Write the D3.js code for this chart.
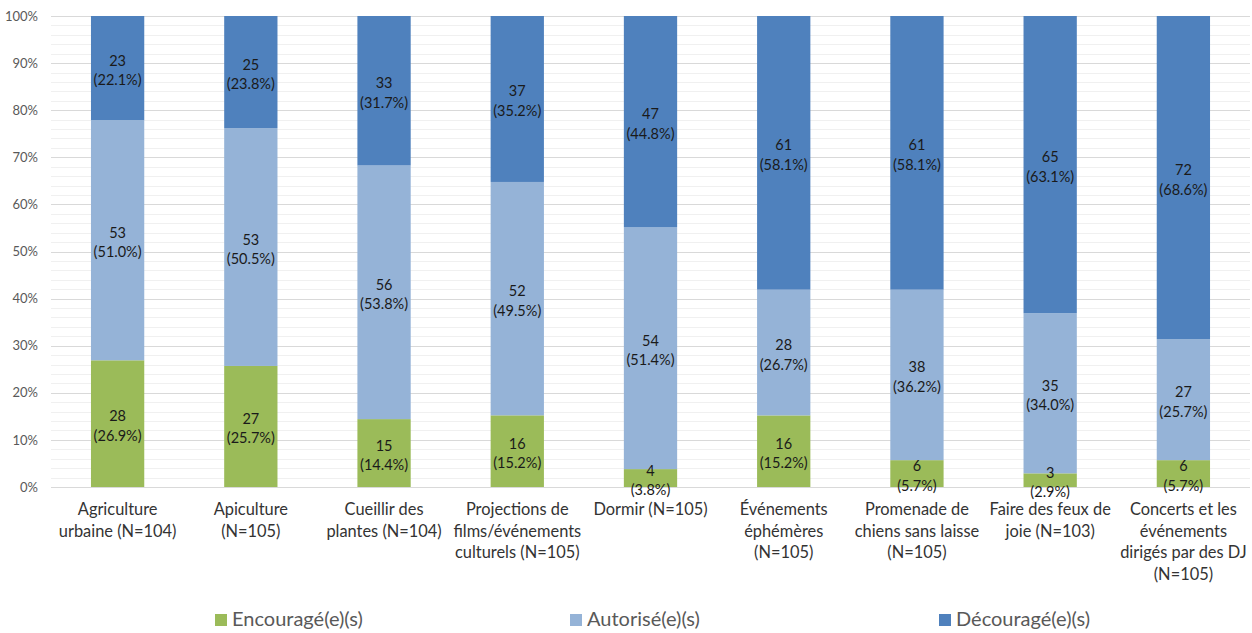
<!DOCTYPE html>
<html><head><meta charset="utf-8">
<script src="https://cdn.jsdelivr.net/npm/d3@7"></script>
<style>
body{margin:0;background:#fff;}
svg{display:block;font-family:Lato,"Open Sans","Noto Sans",sans-serif;}
</style></head>
<body><svg id="c" width="1252" height="633"></svg>
<script>
const categories = [
  "Agriculture\nurbaine (N=104)",
  "Apiculture\n(N=105)",
  "Cueillir des\nplantes (N=104)",
  "Projections de\nfilms/événements\nculturels (N=105)",
  "Dormir (N=105)",
  "Événements\néphémères\n(N=105)",
  "Promenade de\nchiens sans laisse\n(N=105)",
  "Faire des feux de\njoie (N=103)",
  "Concerts et les\névénements\ndirigés par des DJ\n(N=105)"
];
const seriesNames = ["Encouragé(e)(s)", "Autorisé(e)(s)", "Découragé(e)(s)"];
const encourageCount = [28, 27, 15, 16, 4, 16, 6, 3, 6];
const encouragePct   = [26.9, 25.7, 14.4, 15.2, 3.8, 15.2, 5.7, 2.9, 5.7];
const autoriseCount  = [53, 53, 56, 52, 54, 28, 38, 35, 27];
const autorisePct    = [51.0, 50.5, 53.8, 49.5, 51.4, 26.7, 36.2, 34.0, 25.7];
const decourageCount = [23, 25, 33, 37, 47, 61, 61, 65, 72];
const decouragePct   = [22.1, 23.8, 31.7, 35.2, 44.8, 58.1, 58.1, 63.1, 68.6];
const yTicks = [0,10,20,30,40,50,60,70,80,90,100];
const colors = ["#9BBB59", "#95B3D7", "#4F81BD"];

(function(){
const svg = d3.select("#c");
const pLeft = 51, pRight = 1250, pTop = 16, pBottom = 487;
const x = d3.scaleBand().domain(d3.range(categories.length)).range([pLeft, pRight]).paddingInner(0.6).paddingOuter(0.3);
const y = d3.scaleLinear().domain([0, 100]).range([pBottom, pTop]);

// minor gridlines every 2%
const minor = d3.range(0, 101, 2).filter(v => v % 10 !== 0);
svg.append("g").selectAll("line").data(minor).join("line")
  .attr("x1", pLeft).attr("x2", pRight)
  .attr("y1", d => Math.round(y(d)) + 0.5).attr("y2", d => Math.round(y(d)) + 0.5)
  .attr("stroke", "#f0f0f0").attr("stroke-width", 1);
svg.append("g").selectAll("line").data(yTicks).join("line")
  .attr("x1", pLeft).attr("x2", pRight)
  .attr("y1", d => Math.round(y(d)) + 0.5).attr("y2", d => Math.round(y(d)) + 0.5)
  .attr("stroke", "#d9d9d9").attr("stroke-width", 1);

// y-axis labels
const yAxis = d3.axisLeft(y).tickValues(yTicks).tickFormat(d => d + "%").tickSize(0).tickPadding(13);
const ga = svg.append("g").attr("transform", `translate(${pLeft},0)`).call(yAxis);
ga.select(".domain").remove();
ga.selectAll("text").attr("font-size", 13).attr("fill", "#595959").attr("font-family", "Lato,'Open Sans',sans-serif");

const counts = [encourageCount, autoriseCount, decourageCount];
const pcts = [encouragePct, autorisePct, decouragePct];
const rows = categories.map((c, i) => ({i, e: encouragePct[i], a: autorisePct[i], d: decouragePct[i]}));
const stack = d3.stack().keys(["e", "a", "d"]).offset(d3.stackOffsetExpand);
const stacked = stack(rows);

stacked.forEach((layer, s) => {
  const g = svg.append("g");
  g.selectAll("rect").data(layer).join("rect")
    .attr("x", d => x(d.data.i))
    .attr("width", x.bandwidth())
    .attr("y", d => y(d[1] * 100))
    .attr("height", d => y(d[0] * 100) - y(d[1] * 100))
    .attr("fill", colors[s]);
});
stacked.forEach((layer, s) => {
  const g = svg.append("g");
  layer.forEach(d => {
    const i = d.data.i;
    const cx = x(i) + x.bandwidth() / 2;
    const cy = (y(d[0] * 100) + y(d[1] * 100)) / 2;
    const t = g.append("text").attr("text-anchor", "middle").attr("font-size", 14.5).attr("fill", "#1a1a1a");
    t.append("tspan").attr("x", cx).attr("y", cy - 2.5).text(counts[s][i]);
    t.append("tspan").attr("x", cx).attr("y", cy + 17).text("(" + pcts[s][i].toFixed(1) + "%)");
  });
});

// category labels
const cl = svg.append("g");
categories.forEach((c, i) => {
  const t = cl.append("text").attr("text-anchor", "middle").attr("font-size", 16.4).attr("fill", "#333333");
  c.split("\n").forEach((ln, k) => {
    t.append("tspan").attr("x", x(i) + x.bandwidth() / 2).attr("y", 515 + k * 21.5).text(ln);
  });
});

// legend
const legX = [215, 570, 939];
const lg = svg.append("g");
seriesNames.forEach((n, s) => {
  lg.append("rect").attr("x", legX[s]).attr("y", 614).attr("width", 12).attr("height", 12).attr("fill", colors[s]);
  lg.append("text").attr("x", legX[s] + 17).attr("y", 626).attr("font-size", 20).attr("fill", "#595959").text(n);
});
})();
</script></body></html>
